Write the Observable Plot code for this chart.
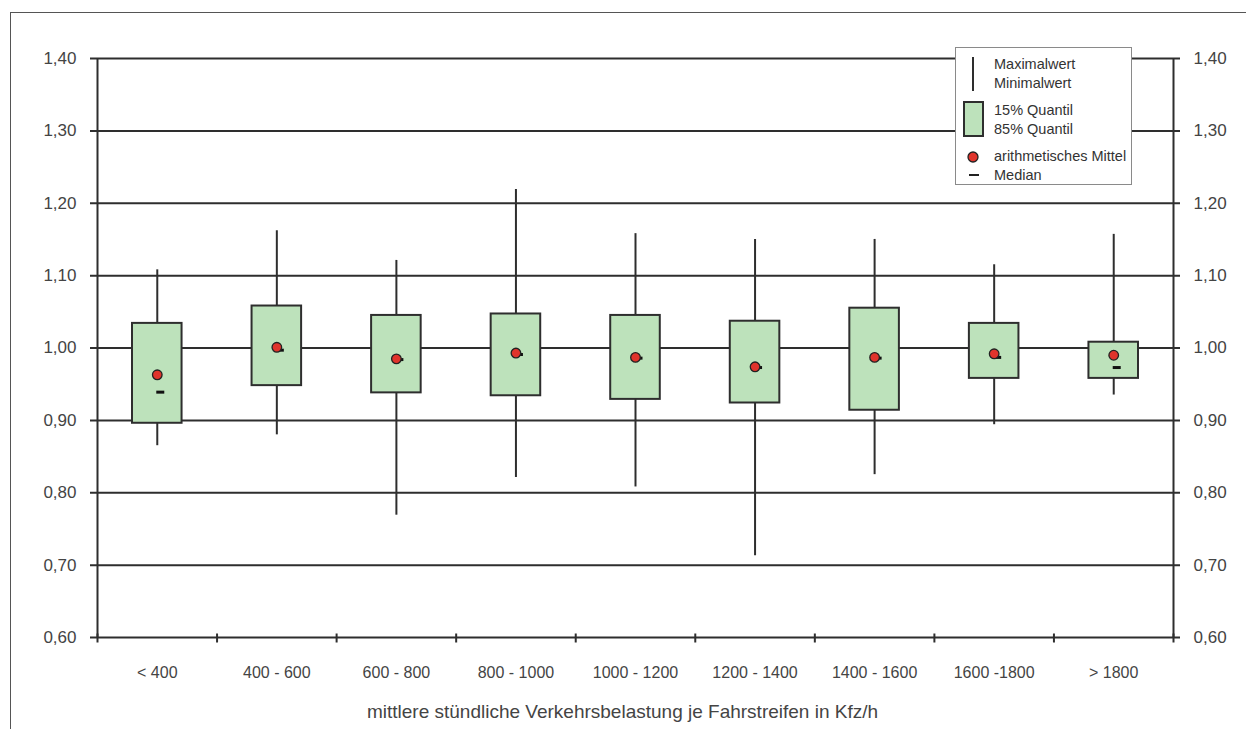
<!DOCTYPE html>
<html>
<head>
<meta charset="utf-8">
<script src="https://cdn.jsdelivr.net/npm/d3@7"></script>
<script src="https://cdn.jsdelivr.net/npm/@observablehq/plot@0.6"></script>
<style>
  html, body { margin: 0; padding: 0; background: #fff; }
  #wrap { position: relative; width: 1246px; height: 729px; overflow: hidden; font-family: "Liberation Sans", Arial, sans-serif; }
  #frame { position: absolute; left: 10px; top: 12px; width: 1240px; height: 720px; border-top: 1.5px solid #555; border-left: 1.5px solid #555; }
  #chart { position: absolute; left: 0; top: 0; }
  #legend { position: absolute; left: 955px; top: 47px; width: 175px; height: 136px; background: #fff; border: 1px solid #8a8a8a; }
</style>
</head>
<body>
<div id="wrap">
  <div id="frame"></div>
  <div id="chart"></div>
  <div id="legend"></div>
</div>
<script>
// ---- data ----
const categories = ["< 400", "400 - 600", "600 - 800", "800 - 1000", "1000 - 1200", "1200 - 1400", "1400 - 1600", "1600 -1800", "> 1800"];
const maxValues    = [1.108, 1.162, 1.121, 1.219, 1.158, 1.150, 1.150, 1.115, 1.157];
const q85Values    = [1.034, 1.058, 1.045, 1.047, 1.045, 1.037, 1.055, 1.034, 1.008];
const q15Values    = [0.896, 0.948, 0.938, 0.934, 0.929, 0.924, 0.914, 0.958, 0.958];
const minValues    = [0.865, 0.880, 0.769, 0.821, 0.808, 0.713, 0.825, 0.894, 0.935];
const meanValues   = [0.963, 1.001, 0.985, 0.993, 0.987, 0.974, 0.987, 0.992, 0.990];
const medianValues = [0.939, 0.997, 0.984, 0.991, 0.986, 0.973, 0.986, 0.987, 0.973];
const yTicks = [0.60, 0.70, 0.80, 0.90, 1.00, 1.10, 1.20, 1.30, 1.40];
const xTitle = "mittlere stündliche Verkehrsbelastung je Fahrstreifen in Kfz/h";
const legendLabels = ["Maximalwert", "Minimalwert", "15% Quantil", "85% Quantil", "arithmetisches Mittel", "Median"];

const rows = categories.map((c, i) => ({
  cat: c, i,
  max: maxValues[i], q85: q85Values[i], q15: q15Values[i], min: minValues[i],
  mean: meanValues[i], median: medianValues[i]
}));
const boundaries = d3.range(categories.length + 1);

const fmt = d => d.toFixed(2).replace(".", ",");
const GREEN = "#bde2bb", DARK = "#2e2e2e", RED = "#e0342c";

const medianSymbol = { draw(ctx, size) { ctx.rect(-4, -1.5, 8, 3); } };
const tickSymbol = { draw(ctx, size) { ctx.moveTo(0, -4); ctx.lineTo(0, 5); } };

const chart = Plot.plot({
  width: 1246,
  height: 729,
  marginLeft: 97,
  marginRight: 73,
  marginTop: 58,
  marginBottom: 92,
  style: { fontFamily: "'Liberation Sans', Arial, sans-serif", fontSize: "16px", background: "transparent", overflow: "visible" },
  x: { domain: [0, categories.length], axis: null },
  y: { domain: [0.6, 1.4], axis: null },
  marks: [
    Plot.ruleY(yTicks, { stroke: DARK, strokeWidth: 2, insetLeft: -7, insetRight: -7 }),
    Plot.ruleX([0, categories.length], { stroke: DARK, strokeWidth: 2 }),
    Plot.dot(boundaries, { x: d => d, y: () => 0.6, symbol: tickSymbol, stroke: DARK, strokeWidth: 2, r: 5 }),
    Plot.axisY({ anchor: "left", ticks: yTicks, tickSize: 0, tickPadding: 21, tickFormat: fmt, fill: "#444", fontSize: 17 }),
    Plot.axisY({ anchor: "right", ticks: yTicks, tickSize: 0, tickPadding: 20, tickFormat: fmt, fill: "#444", fontSize: 17 }),
    Plot.text(rows, { x: d => d.i + 0.5, text: "cat", frameAnchor: "bottom", dy: 40, fill: "#444", fontSize: 16 }),
    Plot.text([xTitle], { text: d => d, frameAnchor: "bottom", dy: 80, dx: -13, fill: "#444", fontSize: 19 }),
    Plot.ruleX(rows, { x: d => d.i + 0.5, y1: "min", y2: "max", stroke: DARK, strokeWidth: 2 }),
    Plot.rect(rows, { x1: d => d.i, x2: d => d.i + 1, y1: "q15", y2: "q85", insetLeft: 35, insetRight: 35, fill: GREEN, stroke: DARK, strokeWidth: 2 }),
    Plot.dot(rows, { x: d => d.i + 0.5, y: "median", dx: 3, symbol: medianSymbol, fill: "#111", r: 4 }),
    Plot.dot(rows, { x: d => d.i + 0.5, y: "mean", r: 4.8, fill: RED, stroke: "#222", strokeWidth: 1.3 })
  ]
});
document.getElementById("chart").appendChild(chart);

// ---- legend ----
const lg = d3.select("#legend").append("svg").attr("width", 175).attr("height", 136)
  .style("font-family", "'Liberation Sans', Arial, sans-serif").style("font-size", "14.5px");
lg.append("line").attr("x1", 17).attr("x2", 17).attr("y1", 9).attr("y2", 43).attr("stroke", DARK).attr("stroke-width", 2);
lg.append("rect").attr("x", 8).attr("y", 54).attr("width", 19).attr("height", 34).attr("fill", GREEN).attr("stroke", DARK).attr("stroke-width", 2);
lg.append("circle").attr("cx", 17).attr("cy", 109).attr("r", 5).attr("fill", RED).attr("stroke", "#222").attr("stroke-width", 1.3);
lg.append("rect").attr("x", 13).attr("y", 126).attr("width", 10).attr("height", 2).attr("fill", "#222");
const ys = [16, 35, 62, 81, 108, 127];
legendLabels.forEach((t, k) => {
  lg.append("text").attr("x", 38).attr("y", ys[k]).attr("dy", "0.35em").attr("fill", "#333").text(t);
});
</script>
</body>
</html>
